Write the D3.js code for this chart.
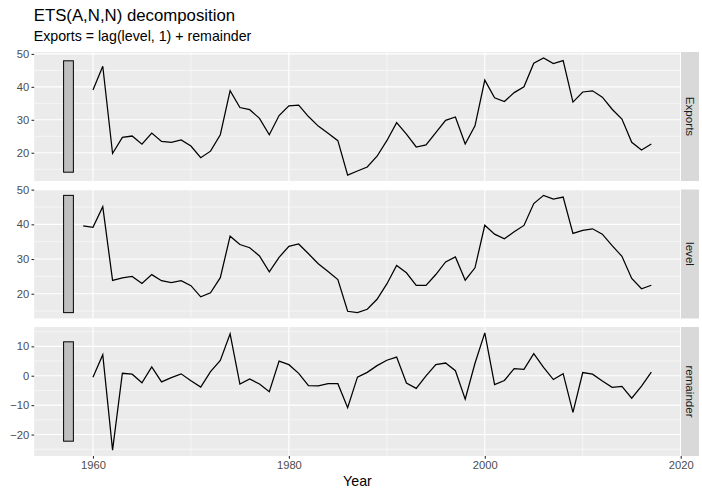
<!DOCTYPE html>
<html><head><meta charset="utf-8">
<script src="https://cdn.jsdelivr.net/npm/d3@7"></script>
<style>body{margin:0;background:#fff;} svg{display:block;}</style>
</head><body>
<script>
// ---- data ----
const exportYears = d3.range(1960, 2018);
const exportsVals = [39.04,46.24,19.79,24.68,25.08,22.60,25.99,23.43,23.13,23.87,22.05,18.49,20.48,25.48,38.87,33.73,33.07,30.44,25.47,31.29,34.26,34.48,30.99,28.09,25.95,23.67,13.21,14.47,15.69,18.95,23.66,29.15,25.64,21.75,22.37,26.13,29.85,30.86,22.64,28.16,42.06,36.68,35.55,38.25,40.03,47.18,48.80,47.06,47.97,35.37,38.44,38.79,36.89,33.21,30.22,23.17,20.86,22.64];
const levelYears = d3.range(1959, 2018);
const levelVals = [39.54,39.12,45.10,23.84,24.55,25.00,22.98,25.51,23.76,23.23,23.77,22.33,19.10,20.26,24.64,36.59,34.19,33.25,30.89,26.34,30.50,33.66,34.35,31.53,28.64,26.38,24.10,14.95,14.55,15.51,18.40,22.82,28.14,26.04,22.44,22.38,25.53,29.16,30.59,23.91,27.48,39.73,37.17,35.81,37.86,39.68,45.98,48.35,47.27,47.86,37.37,38.27,38.71,37.18,33.85,30.80,24.39,21.42,22.44];
const remainderYears = d3.range(1960, 2018);
const remainderVals = [-0.50,7.12,-25.31,0.84,0.53,-2.40,3.01,-2.08,-0.63,0.64,-1.72,-3.84,1.38,5.22,14.23,-2.86,-1.12,-2.81,-5.42,4.95,3.76,0.82,-3.36,-3.44,-2.69,-2.71,-10.89,-0.48,1.14,3.44,5.26,6.33,-2.50,-4.29,-0.07,3.75,4.32,1.70,-7.95,4.25,14.58,-3.05,-1.62,2.44,2.17,7.50,2.82,-1.29,0.70,-12.49,1.07,0.52,-1.82,-3.97,-3.63,-7.63,-3.53,1.22];
const panelNames = ["Exports", "level", "remainder"];
const xTicks = [1960, 1980, 2000, 2020];
const xMinor = [1970, 1990, 2010];
const titleText = "ETS(A,N,N) decomposition";
const subtitleText = "Exports = lag(level, 1) + remainder";
const xLabel = "Year";
const scaleBarYear = [1957, 1958];

const series = [
  {name: panelNames[0], years: exportYears, vals: exportsVals},
  {name: panelNames[1], years: levelYears, vals: levelVals},
  {name: panelNames[2], years: remainderYears, vals: remainderVals}
];

// ---- layout ----
const W = 702, H = 489;
const font = "'Liberation Sans', Arial, Helvetica, sans-serif";
const pL = 34.2, pR = 680.7, pTop = 52, pH = 129, gap = 8.5;
const stripW = 18;

const svg = d3.select("body").append("svg").attr("width", W).attr("height", H)
  .style("font-family", font);

const x = d3.scaleLinear().domain([1954, 2020]).range([pL, pR]);

const barLen = d3.min(series, s => d3.max(s.vals) - d3.min(s.vals));

svg.append("text").attr("x", pL - 0.5).attr("y", 21).attr("font-size", 16.8).attr("fill", "#000").text(titleText);
svg.append("text").attr("x", pL - 0.5).attr("y", 41).attr("font-size", 14.2).attr("fill", "#000").text(subtitleText);

series.forEach((s, i) => {
  const top = pTop + i * (pH + gap);
  const [mn, mx] = d3.extent(s.vals);
  const pad = (mx - mn) * 0.05;
  const y = d3.scaleLinear().domain([mn - pad, mx + pad]).range([top + pH, top]);
  const g = svg.append("g");
  g.append("rect").attr("x", pL).attr("y", top).attr("width", pR - pL).attr("height", pH).attr("fill", "#EBEBEB");
  const ticks = y.ticks(5);
  const step = ticks[1] - ticks[0];
  const minor = d3.range(ticks[0] - step / 2, y.domain()[1], step).filter(v => v > y.domain()[0] && v < y.domain()[1]);
  g.selectAll(".ym").data(minor).join("line").attr("x1", pL).attr("x2", pR)
    .attr("y1", d => y(d)).attr("y2", d => y(d)).attr("stroke", "#fff").attr("stroke-width", 0.55);
  g.selectAll(".xm").data(xMinor).join("line").attr("y1", top).attr("y2", top + pH)
    .attr("x1", d => x(d)).attr("x2", d => x(d)).attr("stroke", "#fff").attr("stroke-width", 0.55);
  g.selectAll(".yM").data(ticks).join("line").attr("x1", pL).attr("x2", pR)
    .attr("y1", d => y(d)).attr("y2", d => y(d)).attr("stroke", "#fff").attr("stroke-width", 1.1);
  g.selectAll(".xM").data(xTicks).join("line").attr("y1", top).attr("y2", top + pH)
    .attr("x1", d => x(d)).attr("x2", d => x(d)).attr("stroke", "#fff").attr("stroke-width", 1.1);
  const ya = g.append("g").attr("transform", `translate(${pL},0)`)
    .call(d3.axisLeft(y).tickValues(ticks).tickSize(2.7).tickPadding(2.2).tickFormat(d => String(d).replace("-", "\u2212")));
  ya.select(".domain").remove();
  ya.selectAll("line").attr("stroke", "#333").attr("stroke-width", 1.1);
  ya.selectAll("text").attr("fill", "#4D4D4D").attr("font-size", 11.2).attr("font-family", font);
  const mid = (mn + mx) / 2;
  g.append("rect").attr("x", x(scaleBarYear[0])).attr("width", x(scaleBarYear[1]) - x(scaleBarYear[0]))
    .attr("y", y(mid + barLen / 2)).attr("height", y(mid - barLen / 2) - y(mid + barLen / 2))
    .attr("fill", "#BFBFBF").attr("stroke", "#000").attr("stroke-width", 1);
  const line = d3.line().x((d, j) => x(s.years[j])).y(d => y(d));
  g.append("path").datum(s.vals).attr("d", line).attr("fill", "none").attr("stroke", "#000").attr("stroke-width", 1.25);
  g.append("rect").attr("x", pR + 0.3).attr("y", top).attr("width", stripW).attr("height", pH).attr("fill", "#D9D9D9");
  const cx = pR + 0.3 + stripW / 2, cy = top + pH / 2;
  g.append("text").attr("transform", `translate(${cx},${cy}) rotate(90)`).attr("text-anchor", "middle")
    .attr("dy", "0.35em").attr("font-size", 11.6).attr("fill", "#1A1A1A").text(s.name);
  if (i === 2) {
    const xa = g.append("g").attr("transform", `translate(0,${top + pH})`)
      .call(d3.axisBottom(x).tickValues(xTicks).tickSize(2.7).tickPadding(2.2).tickFormat(d3.format("d")));
    xa.select(".domain").remove();
    xa.selectAll("line").attr("stroke", "#333").attr("stroke-width", 1.1);
    xa.selectAll("text").attr("fill", "#4D4D4D").attr("font-size", 11.2).attr("font-family", font);
  }
});

svg.append("text").attr("x", (pL + pR) / 2).attr("y", 486).attr("text-anchor", "middle")
  .attr("font-size", 14.2).attr("fill", "#000").text(xLabel);
</script>
</body></html>
